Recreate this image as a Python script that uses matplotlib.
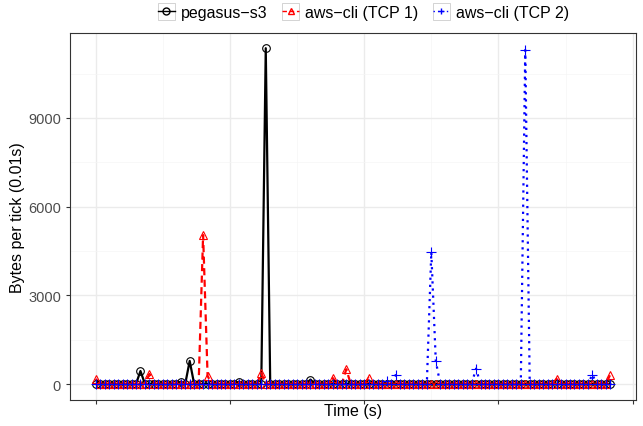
import numpy as np
import matplotlib.pyplot as plt
from matplotlib.lines import Line2D
from matplotlib.patches import Rectangle

plt.rcParams['font.family'] = ['Liberation Sans', 'DejaVu Sans']

# time steps (ticks of 0.01 s), axis labels are left blank in the original
ticks = np.arange(116)

# non-zero readings per series: (tick index, bytes)
s3_peaks = [(10, 440), (19, 80), (21, 780), (32, 80), (38, 11360), (48, 150)]
tcp1_peaks = [(0, 170), (12, 340), (24, 5040), (25, 270), (37, 370), (53, 200),
              (56, 500), (61, 200), (103, 170), (115, 320)]
tcp2_peaks = [(65, 100), (67, 300), (75, 4460), (76, 780), (85, 520),
              (96, 11300), (111, 320)]

names = ['pegasus\u2212s3', 'aws\u2212cli (TCP 1)', 'aws\u2212cli (TCP 2)']
colors = ['black', '#FF0000', '#0000FF']
linestyles = ['-', (0, (3.2, 2.0)), (0, (1, 2.2))]
markers = ['o', '^', '+']


def series(peaks):
    y = np.zeros(len(ticks))
    for i, v in peaks:
        y[i] = v
    return y


data = [series(s3_peaks), series(tcp1_peaks), series(tcp2_peaks)]

fig = plt.figure(figsize=(6.43, 4.27), dpi=100)
ax = fig.add_axes([70 / 643, 1 - 401 / 427, 566 / 643, 367 / 427])

# lines first, then points on top (like geom_line + geom_point)
for y, c, ls in zip(data, colors, linestyles):
    ax.plot(ticks, y, color=c, linestyle=ls, linewidth=1.6, zorder=3)
for y, c, m in zip(data, colors, markers):
    ax.plot(ticks, y, linestyle='none', marker=m, markersize=5.5 if m != '+' else 6.5,
            markerfacecolor='none', markeredgecolor=c, markeredgewidth=0.8, zorder=4)

ax.set_xlim(-5.75, 120.75)
ax.set_ylim(-541, 11874)
ax.set_xticks([0, 30, 60, 90, 120])
ax.set_xticklabels([])
ax.set_xticks([15, 45, 75, 105], minor=True)
ax.set_yticks([0, 3000, 6000, 9000])
ax.set_yticks([1500, 4500, 7500, 10500], minor=True)
ax.tick_params(which='major', length=3, color='#333333', width=0.8,
               labelsize=10.5, labelcolor='#4D4D4D')
ax.tick_params(which='minor', length=0)
ax.grid(which='major', color='#EBEBEB', linewidth=1.0, zorder=0)
ax.grid(which='minor', color='#F5F5F5', linewidth=0.5, zorder=0)
ax.set_axisbelow(True)
for s in ax.spines.values():
    s.set_color('#333333')
    s.set_linewidth(0.8)

ax.set_xlabel('Time (s)', fontsize=11.5, va='center')
ax.xaxis.set_label_coords(0.5, -11 / 367)
ax.set_ylabel('Bytes per tick (0.01s)', fontsize=11.5, va='center')
ax.yaxis.set_label_coords(-52 / 566, 0.5)

handles = [Line2D([], [], color=c, linestyle=ls, linewidth=1.0, marker=m,
                  markersize=5, markerfacecolor='none', markeredgecolor=c)
           for c, ls, m in zip(colors, linestyles, markers)]
leg = fig.legend(handles, names, loc='upper center', bbox_to_anchor=(0.565, 1.02),
                 ncol=3, frameon=False, fontsize=11.5, handlelength=1.1,
                 handletextpad=0.35, columnspacing=0.9)

# ggplot-style key boxes around the legend handles
fig.canvas.draw()
r = fig.canvas.get_renderer()
for h in leg.legend_handles:
    bb = h.get_window_extent(r)
    cx, cy = (bb.x0 + bb.x1) / 2, (bb.y0 + bb.y1) / 2
    fig.patches.append(Rectangle((cx - 8.5, cy - 8.5), 17, 17, fill=False,
                                 edgecolor='#CCCCCC', linewidth=0.6,
                                 transform=None, zorder=0))

fig.savefig('out.png', dpi=100)
